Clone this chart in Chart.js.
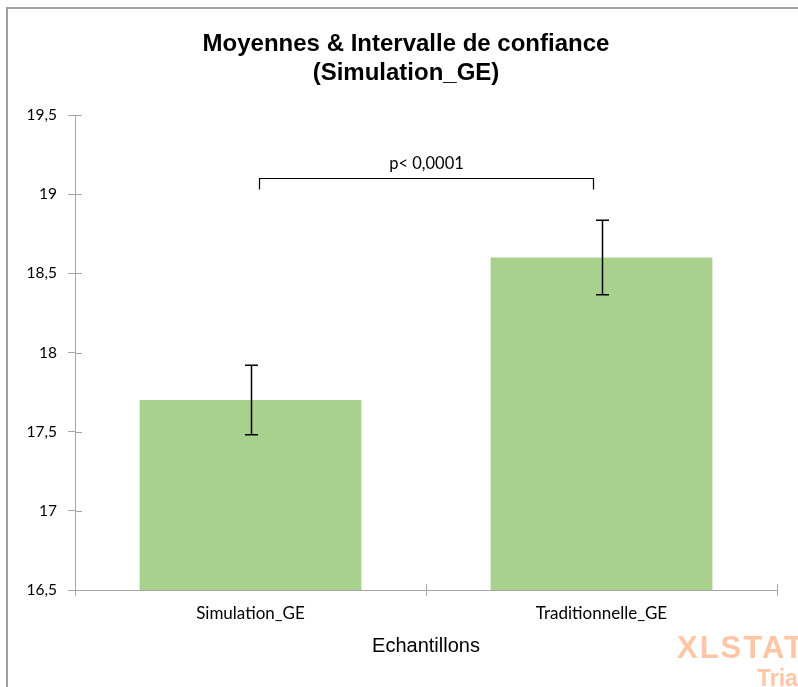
<!DOCTYPE html>
<html>
<head>
<meta charset="utf-8">
<title>Moyennes & Intervalle de confiance</title>
<script src="https://cdn.jsdelivr.net/npm/chart.js@4.4.1/dist/chart.umd.min.js"></script>
<style>
html, body { margin: 0; padding: 0; background: #ffffff; }
canvas { display: block; }
</style>
</head>
<body>
<canvas id="meansChart" width="798" height="687"></canvas>
<script>
var categories = ['Simulation_GE', 'Traditionnelle_GE'];
var means = [17.70, 18.60];
var ciLower = [17.48, 18.365];
var ciUpper = [17.92, 18.835];
var yTicks = [16.5, 17, 17.5, 18, 18.5, 19, 19.5];
var titleLines = ['Moyennes & Intervalle de confiance', '(Simulation_GE)'];
var pValueText = 'p< 0,0001';
var bracketLevel = 19.1;
var bracketFoot = 19.03;

var axisGray = '#a6a6a6';
var tickFont = '"Lato", "Open Sans", sans-serif';
var arialFont = '"Liberation Sans", Arial, sans-serif';

// background, frame, error bars, comparison bracket, title and logo
var decorations = {
	id: 'decorations',
	beforeDraw: function (chart) {
		var ctx = chart.ctx;
		ctx.save();
		ctx.fillStyle = '#ffffff';
		ctx.fillRect(0, 0, chart.width, chart.height);
		ctx.strokeStyle = '#a0a0a0';
		ctx.lineWidth = 2;
		ctx.beginPath();
		ctx.moveTo(7, chart.height + 5);
		ctx.lineTo(7, 8);
		ctx.lineTo(chart.width + 5, 8);
		ctx.stroke();
		ctx.restore();
	},
	afterDatasetsDraw: function (chart) {
		var ctx = chart.ctx;
		var xScale = chart.scales.x;
		var yScale = chart.scales.y;
		var area = chart.chartArea;
		var bars = chart.getDatasetMeta(0).data;

		ctx.save();

		// tick marks crossing into the plot (Excel "cross" style)
		ctx.strokeStyle = axisGray;
		ctx.lineWidth = 1;
		ctx.beginPath();
		for (var i = 0; i < yTicks.length; i++) {
			var ty = Math.round(yScale.getPixelForValue(yTicks[i])) + 0.5;
			ctx.moveTo(area.left, ty);
			ctx.lineTo(area.left + 7, ty);
		}
		for (var j = 0; j <= categories.length; j++) {
			var tx = Math.round(xScale.getPixelForValue(j - 0.5)) + 0.5;
			ctx.moveTo(tx, area.bottom);
			ctx.lineTo(tx, area.bottom - 6);
		}
		ctx.stroke();

		// confidence intervals
		ctx.strokeStyle = '#000000';
		ctx.lineWidth = 1.5;
		ctx.beginPath();
		for (var k = 0; k < bars.length; k++) {
			var cx = Math.round(bars[k].x) + 0.5;
			var yHi = yScale.getPixelForValue(ciUpper[k]);
			var yLo = yScale.getPixelForValue(ciLower[k]);
			ctx.moveTo(cx, yHi);
			ctx.lineTo(cx, yLo);
			ctx.moveTo(cx - 6.5, yHi);
			ctx.lineTo(cx + 6.5, yHi);
			ctx.moveTo(cx - 6.5, yLo);
			ctx.lineTo(cx + 6.5, yLo);
		}
		ctx.stroke();

		// significance bracket between the two groups
		var bx1 = Math.round(xScale.getPixelForValue(0.025)) + 0.5;
		var bx2 = Math.round(xScale.getPixelForValue(0.975)) + 0.5;
		var by = Math.round(yScale.getPixelForValue(bracketLevel)) + 0.5;
		var byFoot = yScale.getPixelForValue(bracketFoot);
		ctx.lineWidth = 1.2;
		ctx.beginPath();
		ctx.moveTo(bx1, byFoot);
		ctx.lineTo(bx1, by);
		ctx.lineTo(bx2, by);
		ctx.lineTo(bx2, byFoot);
		ctx.stroke();

		ctx.fillStyle = '#000000';
		ctx.font = '16.5px ' + tickFont;
		ctx.textAlign = 'center';
		ctx.textBaseline = 'bottom';
		ctx.fillText(pValueText, (bx1 + bx2) / 2, by - 7);

		ctx.restore();
	},
	afterDraw: function (chart) {
		var ctx = chart.ctx;
		ctx.save();

		ctx.fillStyle = '#000000';
		ctx.font = 'bold 24px ' + arialFont;
		ctx.textAlign = 'center';
		ctx.textBaseline = 'alphabetic';
		ctx.fillText(titleLines[0], 406, 51);
		ctx.fillText(titleLines[1], 406, 80);

		ctx.fillStyle = '#ffc6a6';
		ctx.textAlign = 'left';
		ctx.font = 'bold 31px ' + arialFont;
		ctx.letterSpacing = '2px';
		ctx.fillText('XLSTAT', 677, 658);
		ctx.letterSpacing = '0px';
		ctx.font = 'bold 23px "Liberation Sans Narrow", ' + arialFont;
		ctx.fillText('Tria', 757, 686);

		ctx.restore();
	}
};

var data = {
	labels: categories,
	datasets: [{
		label: 'Moyenne',
		data: means,
		backgroundColor: '#a9d18e',
		borderWidth: 0,
		barPercentage: 0.632,
		categoryPercentage: 1.0
	}]
};

var options = {
	responsive: false,
	animation: false,
	devicePixelRatio: 1,
	layout: {
		padding: { top: 115, right: 21, bottom: 0, left: 0 }
	},
	plugins: {
		legend: { display: false },
		tooltip: { enabled: false },
		title: { display: false }
	},
	scales: {
		x: {
			type: 'category',
			offset: true,
			grid: {
				display: true,
				offset: true,
				drawOnChartArea: false,
				drawTicks: true,
				tickLength: 6,
				color: axisGray
			},
			border: { display: true, color: axisGray, width: 1 },
			ticks: {
				color: '#000000',
				padding: 7,
				font: { family: tickFont, size: 17 }
			},
			title: {
				display: true,
				text: 'Echantillons',
				color: '#000000',
				font: { family: arialFont, size: 20 },
				padding: { top: 0, bottom: 29 }
			},
			afterFit: function (scale) {
				scale.height = 97;
			}
		},
		y: {
			min: 16.5,
			max: 19.5,
			grid: {
				display: true,
				drawOnChartArea: false,
				drawTicks: true,
				tickLength: 7,
				color: axisGray
			},
			border: { display: true, color: axisGray, width: 1 },
			ticks: {
				color: '#000000',
				padding: 11,
				font: { family: tickFont, size: 15.5 },
				callback: function (value) {
					return String(value).replace('.', ',');
				}
			},
			afterBuildTicks: function (scale) {
				scale.ticks = yTicks.map(function (v) { return { value: v }; });
			},
			afterFit: function (scale) {
				scale.width = 75;
			}
		}
	}
};

var config = {
	type: 'bar',
	data: data,
	options: options,
	plugins: [decorations]
};

var meansChart = new Chart(document.getElementById('meansChart'), config);
</script>
</body>
</html>
